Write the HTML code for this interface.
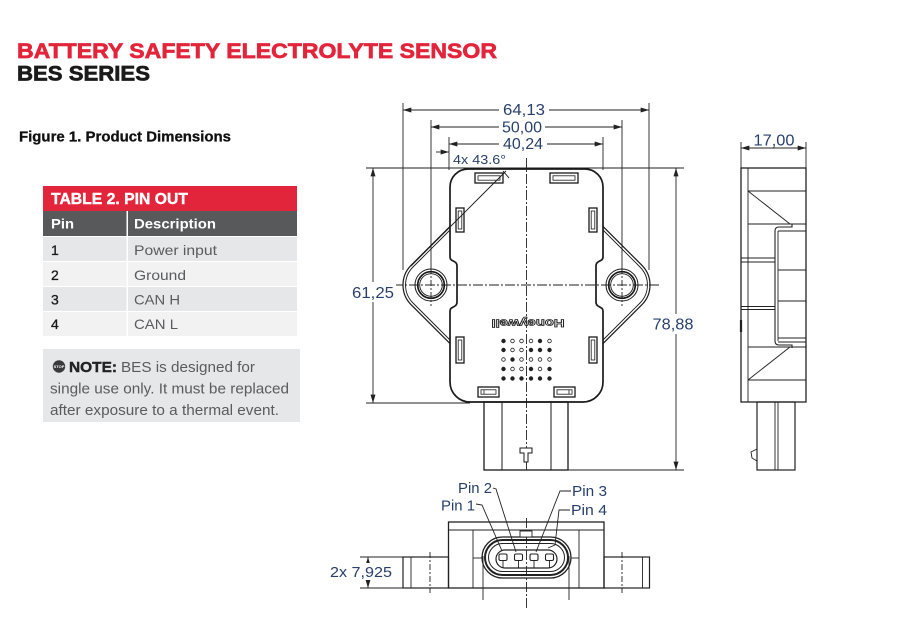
<!DOCTYPE html>
<html><head><meta charset="utf-8"><style>
html,body{margin:0;padding:0;background:#fff;}
svg{display:block;}
</style></head><body>
<svg width="910" height="625" viewBox="0 0 910 625" xmlns="http://www.w3.org/2000/svg" font-family="'Liberation Sans', Arial, sans-serif">
<defs>
<marker id="ar" viewBox="0 0 10 6" refX="10" refY="3" markerWidth="9" markerHeight="5" markerUnits="userSpaceOnUse" orient="auto-start-reverse"><path d="M0,0 L10,3 L0,6 z" fill="#222"/></marker>
</defs>
<rect x="0" y="0" width="910" height="625" fill="#fff"/>

<!-- LEFT PANEL -->
<text x="17" y="57.8" font-size="21.5" font-weight="700" fill="#e2253a" stroke="#e2253a" stroke-width="0.7" textLength="480" lengthAdjust="spacingAndGlyphs">BATTERY SAFETY ELECTROLYTE SENSOR</text>
<text x="17" y="80.5" font-size="21.5" font-weight="700" fill="#1a1a1a" stroke="#1a1a1a" stroke-width="0.7" textLength="133" lengthAdjust="spacingAndGlyphs">BES SERIES</text>
<text x="19" y="141.7" font-size="14.5" font-weight="700" fill="#111" stroke="#111" stroke-width="0.3" textLength="212" lengthAdjust="spacingAndGlyphs">Figure 1. Product Dimensions</text>

<rect x="43" y="186" width="254" height="25" fill="#e2253a"/>
<text x="51" y="204" font-size="15.5" font-weight="700" fill="#fff" stroke="#fff" stroke-width="0.4" textLength="137" lengthAdjust="spacingAndGlyphs">TABLE 2. PIN OUT</text>
<rect x="43" y="211" width="254" height="25" fill="#58595b"/>
<text x="51" y="228.5" font-size="14" font-weight="700" fill="#fff" textLength="23" lengthAdjust="spacingAndGlyphs">Pin</text>
<text x="134" y="228.5" font-size="14" font-weight="700" fill="#fff" textLength="82" lengthAdjust="spacingAndGlyphs">Description</text>
<rect x="43" y="237" width="254" height="24" fill="#e6e7e8"/>
<rect x="43" y="262" width="254" height="24" fill="#f2f2f3"/>
<rect x="43" y="287" width="254" height="24" fill="#e6e7e8"/>
<rect x="43" y="312" width="254" height="24" fill="#f2f2f3"/>
<rect x="126.5" y="211" width="1.5" height="125" fill="#fff"/>
<g font-size="14" fill="#1a1a1a" stroke="#1a1a1a" stroke-width="0.3">
<text x="51" y="255">1</text>
<text x="51" y="280">2</text>
<text x="51" y="304.5">3</text>
<text x="51" y="329">4</text>
</g>
<g font-size="14" fill="#5a5b5e">
<text x="134" y="255" textLength="83" lengthAdjust="spacingAndGlyphs">Power input</text>
<text x="134" y="280" textLength="52" lengthAdjust="spacingAndGlyphs">Ground</text>
<text x="134" y="304.5" textLength="46" lengthAdjust="spacingAndGlyphs">CAN H</text>
<text x="134" y="329" textLength="44" lengthAdjust="spacingAndGlyphs">CAN L</text>
</g>

<rect x="43" y="349" width="257" height="73" fill="#e6e7e8"/>
<circle cx="59" cy="366.5" r="6.2" fill="#3a3a3c"/>
<text x="59" y="368" font-size="4" font-weight="700" fill="#fff" text-anchor="middle">STOP</text>
<text x="69" y="372" font-size="14.5" font-weight="700" fill="#222" stroke="#222" stroke-width="0.4" textLength="48" lengthAdjust="spacingAndGlyphs">NOTE:</text>
<text x="121" y="372" font-size="14.5" fill="#5a5b5e" textLength="134" lengthAdjust="spacingAndGlyphs">BES is designed for</text>
<text x="50" y="393.5" font-size="14.5" fill="#5a5b5e" textLength="239" lengthAdjust="spacingAndGlyphs">single use only. It must be replaced</text>
<text x="50" y="415" font-size="14.5" fill="#5a5b5e" textLength="229" lengthAdjust="spacingAndGlyphs">after exposure to a thermal event.</text>

<!-- FRONT VIEW -->
<g fill="none" stroke="#222" stroke-width="0.9">
  <line x1="403" y1="103" x2="403" y2="270"/>
  <line x1="649" y1="103" x2="649" y2="270"/>
  <line x1="431" y1="120" x2="431" y2="268"/>
  <line x1="622" y1="120" x2="622" y2="268"/>
  <line x1="449" y1="137" x2="449" y2="170"/>
  <line x1="603" y1="137" x2="603" y2="170"/>
  <line x1="366" y1="168" x2="684" y2="168"/>
  <line x1="366" y1="403" x2="470" y2="403"/>
  <line x1="568" y1="470" x2="684" y2="470"/>
  <line x1="403" y1="110" x2="649" y2="110" marker-start="url(#ar)" marker-end="url(#ar)"/>
  <line x1="431" y1="127" x2="622" y2="127" marker-start="url(#ar)" marker-end="url(#ar)"/>
  <line x1="449" y1="144" x2="603" y2="144" marker-start="url(#ar)" marker-end="url(#ar)"/>
  <line x1="436" y1="152" x2="449" y2="152" marker-end="url(#ar)"/>
  <line x1="373" y1="168" x2="373" y2="403" marker-start="url(#ar)" marker-end="url(#ar)"/>
  <line x1="676" y1="168" x2="676" y2="470" marker-start="url(#ar)" marker-end="url(#ar)"/>
  <line x1="526.5" y1="158" x2="526.5" y2="470" stroke-dasharray="10,2,2,2"/>
  <line x1="393" y1="285" x2="660" y2="285" stroke-dasharray="10,2,2,2"/>
  <line x1="431" y1="268" x2="431" y2="306" stroke-dasharray="6,2,2,2"/>
  <line x1="622" y1="268" x2="622" y2="306" stroke-dasharray="6,2,2,2"/>
</g>
<g font-size="15.5" fill="#28406a" text-anchor="middle">
  <rect x="499" y="101" width="50" height="17" fill="#fff"/>
  <text x="524" y="115" textLength="42" lengthAdjust="spacingAndGlyphs">64,13</text>
  <rect x="499" y="119" width="46" height="16" fill="#fff"/>
  <text x="522" y="132.5" textLength="40" lengthAdjust="spacingAndGlyphs">50,00</text>
  <rect x="499" y="136" width="48" height="16" fill="#fff"/>
  <text x="523" y="149" textLength="40" lengthAdjust="spacingAndGlyphs">40,24</text>
  <rect x="350" y="282" width="46" height="20" fill="#fff"/>
  <text x="373" y="298" textLength="42" lengthAdjust="spacingAndGlyphs">61,25</text>
  <rect x="651" y="314" width="44" height="20" fill="#fff"/>
  <text x="673" y="329.5" textLength="41" lengthAdjust="spacingAndGlyphs">78,88</text>
</g>
<text x="453" y="164" font-size="13" fill="#28406a" textLength="53" lengthAdjust="spacingAndGlyphs">4x 43.6°</text>

<g fill="none" stroke="#1a1a1a">
  <path stroke-width="1.7" d="M468,169 L585,169 A18,18 0 0 1 603,187 L603,257 C603,262 596,260 596,266 L596,302 C596,308 603,306 603,311 L603,382 A20,20 0 0 1 583,402 L470,402 A20,20 0 0 1 450,382 L450,311 C450,306 457,308 457,302 L457,266 C457,260 450,262 450,257 L450,187 A18,18 0 0 1 468,169 Z"/>
  <g id="ear">
    <path stroke-width="1.2" d="M450,226.4 L411.2,265.2 A28,28 0 0 0 411.2,304.8 L450,343.6"/>
    <path stroke-width="0.9" d="M450,230 L413,267 A25.5,25.5 0 0 0 413,303 L450,340"/>
    <circle cx="431" cy="285" r="16" stroke-width="1"/>
    <circle cx="431" cy="285" r="13.3" stroke-width="1.7"/>
    <circle cx="431" cy="285" r="11.3" stroke-width="0.9"/>
    <rect x="456" y="208" width="8" height="24" stroke-width="1.3"/>
    <rect x="458.2" y="211" width="3.6" height="18" stroke-width="0.8"/>
    <rect x="456" y="337" width="8" height="26" stroke-width="1.3"/>
    <rect x="458.2" y="340" width="3.6" height="20" stroke-width="0.8"/>
    <rect x="475" y="173" width="28" height="10" stroke-width="1.3"/>
    <rect x="478" y="175.8" width="22" height="4.4" stroke-width="0.8"/>
    <rect x="478" y="387" width="21" height="10" stroke-width="1.3"/>
    <rect x="481" y="389.8" width="15" height="4.4" stroke-width="0.8"/>
    <line x1="484" y1="390" x2="484" y2="394" stroke-width="0.8"/>
  </g>
  <use href="#ear" transform="translate(1053,0) scale(-1,1)"/>
  <line x1="506" y1="171" x2="411" y2="266" stroke-width="0.9"/>
  <line x1="503" y1="171" x2="509" y2="178" stroke-width="0.9"/>
  <rect x="484" y="402" width="84" height="68" stroke-width="1.3"/>
  <line x1="502" y1="402" x2="502" y2="470" stroke-width="1"/>
  <line x1="551" y1="402" x2="551" y2="470" stroke-width="1"/>
</g>
<path d="M520,448 h12 v5 h-4 v9 h-4 v-9 h-4 z" fill="#fff" stroke="#1a1a1a" stroke-width="1"/>
<text x="528" y="328.5" font-size="11" font-weight="700" fill="#fff" stroke="#222" stroke-width="0.8" text-anchor="middle" textLength="73" lengthAdjust="spacingAndGlyphs" transform="rotate(180 528 324)">Honeywell</text>
<g stroke="#222" stroke-width="0.8">
  <circle cx="503.5" cy="341" r="1.8" fill="#222"/><circle cx="512.5" cy="341" r="1.8" fill="none"/><circle cx="521.5" cy="341" r="1.8" fill="none"/><circle cx="531" cy="341" r="1.8" fill="none"/><circle cx="540" cy="341" r="1.8" fill="#222"/><circle cx="549.5" cy="341" r="1.8" fill="none"/>
  <circle cx="503.5" cy="350" r="1.8" fill="#222"/><circle cx="512.5" cy="350" r="1.8" fill="none"/><circle cx="521.5" cy="350" r="1.8" fill="none"/><circle cx="531" cy="350" r="1.8" fill="#222"/><circle cx="540" cy="350" r="1.8" fill="#222"/><circle cx="549.5" cy="350" r="1.8" fill="#222"/>
  <circle cx="503.5" cy="359.5" r="1.8" fill="none"/><circle cx="512.5" cy="359.5" r="1.8" fill="#222"/><circle cx="521.5" cy="359.5" r="1.8" fill="none"/><circle cx="531" cy="359.5" r="1.8" fill="none"/><circle cx="540" cy="359.5" r="1.8" fill="none"/><circle cx="549.5" cy="359.5" r="1.8" fill="none"/>
  <circle cx="503.5" cy="369" r="1.8" fill="#222"/><circle cx="512.5" cy="369" r="1.8" fill="none"/><circle cx="521.5" cy="369" r="1.8" fill="none"/><circle cx="531" cy="369" r="1.8" fill="#222"/><circle cx="540" cy="369" r="1.8" fill="none"/><circle cx="549.5" cy="369" r="1.8" fill="#222"/>
  <circle cx="503.5" cy="378.5" r="1.8" fill="#222"/><circle cx="512.5" cy="378.5" r="1.8" fill="#222"/><circle cx="521.5" cy="378.5" r="1.8" fill="#222"/><circle cx="531" cy="378.5" r="1.8" fill="#222"/><circle cx="540" cy="378.5" r="1.8" fill="#222"/><circle cx="549.5" cy="378.5" r="1.8" fill="#222"/>
</g>

<!-- SIDE VIEW -->
<g fill="none" stroke="#222" stroke-width="0.9">
  <line x1="741" y1="142" x2="741" y2="168"/>
  <line x1="806" y1="142" x2="806" y2="168"/>
  <line x1="741" y1="148" x2="806" y2="148" marker-start="url(#ar)" marker-end="url(#ar)"/>
  <rect x="741" y="168" width="65" height="234" stroke-width="1.3"/>
  <line x1="748" y1="168" x2="748" y2="402"/>
  <line x1="748" y1="191" x2="806" y2="191"/>
  <line x1="748" y1="191" x2="790" y2="224"/>
  <line x1="748" y1="224" x2="806" y2="224"/>
  <line x1="778" y1="231" x2="806" y2="231"/>
  <path d="M792,224 L792,227 L779,227 Q775,227 775,231 L775,341 Q775,345 779,345 L792,345 L792,348" stroke-width="1.1"/>
  <line x1="778" y1="231" x2="778" y2="341"/>
  <line x1="778" y1="270" x2="806" y2="270"/>
  <line x1="778" y1="301" x2="806" y2="301"/>
  <line x1="778" y1="338" x2="806" y2="338"/>
  <line x1="778" y1="342" x2="806" y2="342"/>
  <line x1="748" y1="347" x2="806" y2="347"/>
  <line x1="741" y1="258" x2="775" y2="258"/>
  <line x1="741" y1="262" x2="775" y2="262"/>
  <line x1="741" y1="306.5" x2="775" y2="306.5"/>
  <line x1="741" y1="309.5" x2="775" y2="309.5"/>
  <line x1="790" y1="347" x2="748" y2="380"/>
  <line x1="748" y1="380" x2="806" y2="380"/>
  <line x1="741" y1="320" x2="741" y2="332" stroke-width="2.2"/>
  <rect x="757" y="402" width="38" height="68" stroke-width="1.2"/>
  <line x1="775" y1="402" x2="775" y2="470"/>
  <line x1="778" y1="402" x2="778" y2="470"/>
  <path d="M757,449 L751,452 L752,458 L757,461"/>
</g>
<text x="774" y="145.5" font-size="15.5" fill="#28406a" text-anchor="middle" textLength="41" lengthAdjust="spacingAndGlyphs">17,00</text>

<!-- BOTTOM VIEW -->
<g fill="none" stroke="#222" stroke-width="0.9">
  <rect x="448.5" y="522" width="155.5" height="66" stroke-width="1.3"/>
  <line x1="448.5" y1="530" x2="604" y2="530"/>
  <line x1="473" y1="530" x2="473" y2="588"/>
  <line x1="579" y1="530" x2="579" y2="588"/>
  <line x1="473" y1="558" x2="483" y2="558"/>
  <line x1="569" y1="558" x2="579" y2="558"/>
  <rect x="403" y="557" width="45.5" height="31" stroke-width="1.2"/>
  <rect x="604" y="557" width="45.5" height="31" stroke-width="1.2"/>
  <line x1="411" y1="557" x2="411" y2="588"/>
  <line x1="642.5" y1="557" x2="642.5" y2="588"/>
  <line x1="430" y1="552" x2="430" y2="593" stroke-dasharray="6,2,2,2"/>
  <line x1="622" y1="552" x2="622" y2="593" stroke-dasharray="6,2,2,2"/>
  <rect x="482" y="537" width="89" height="41" rx="20.5" stroke-width="1.3" fill="#fff"/>
  <rect x="485" y="540" width="83" height="35" rx="17.5" stroke-width="2"/>
  <rect x="488.5" y="543.5" width="76" height="28" rx="14" stroke-width="1"/>
  <rect x="496" y="550" width="61" height="18" rx="9" stroke-width="1.2"/>
  <line x1="526.5" y1="518" x2="526.5" y2="610" stroke-dasharray="10,2,2,2"/>
  <line x1="483" y1="556" x2="483" y2="600"/>
  <line x1="569" y1="556" x2="569" y2="600"/>
  <rect x="520" y="531" width="12" height="6" fill="#fff"/>
  <g stroke-width="1.1">
    <rect x="499" y="554" width="8" height="6.5" rx="1.5" fill="#fff"/>
    <rect x="514.5" y="554" width="8" height="6.5" rx="1.5" fill="#fff"/>
    <rect x="530" y="554" width="8" height="6.5" rx="1.5" fill="#fff"/>
    <rect x="545.5" y="554" width="8" height="6.5" rx="1.5" fill="#fff"/>
  </g>
  <line x1="503" y1="561" x2="503" y2="568"/>
  <line x1="518.5" y1="561" x2="518.5" y2="568"/>
  <line x1="534" y1="561" x2="534" y2="568"/>
  <line x1="549.5" y1="561" x2="549.5" y2="568"/>
  <polyline points="493,488 496,489 516,552"/>
  <polyline points="476,504 482,505 502,551"/>
  <polyline points="571,491 560,491 536,552"/>
  <polyline points="570,510 559,510 555,545 548,548"/>
  <line x1="360" y1="557" x2="403" y2="557"/>
  <line x1="360" y1="588" x2="403" y2="588"/>
  <line x1="368" y1="557" x2="368" y2="588" marker-start="url(#ar)" marker-end="url(#ar)"/>
</g>
<rect x="330" y="563" width="63" height="17" fill="#fff"/>
<g font-size="15" fill="#28406a">
  <text x="330" y="577" textLength="62" lengthAdjust="spacingAndGlyphs">2x 7,925</text>
  <text x="458" y="493" textLength="34" lengthAdjust="spacingAndGlyphs">Pin 2</text>
  <text x="441" y="510.5" textLength="34" lengthAdjust="spacingAndGlyphs">Pin 1</text>
  <text x="572" y="496" textLength="35" lengthAdjust="spacingAndGlyphs">Pin 3</text>
  <text x="571" y="515" textLength="36" lengthAdjust="spacingAndGlyphs">Pin 4</text>
</g>
</svg>
</body></html>
